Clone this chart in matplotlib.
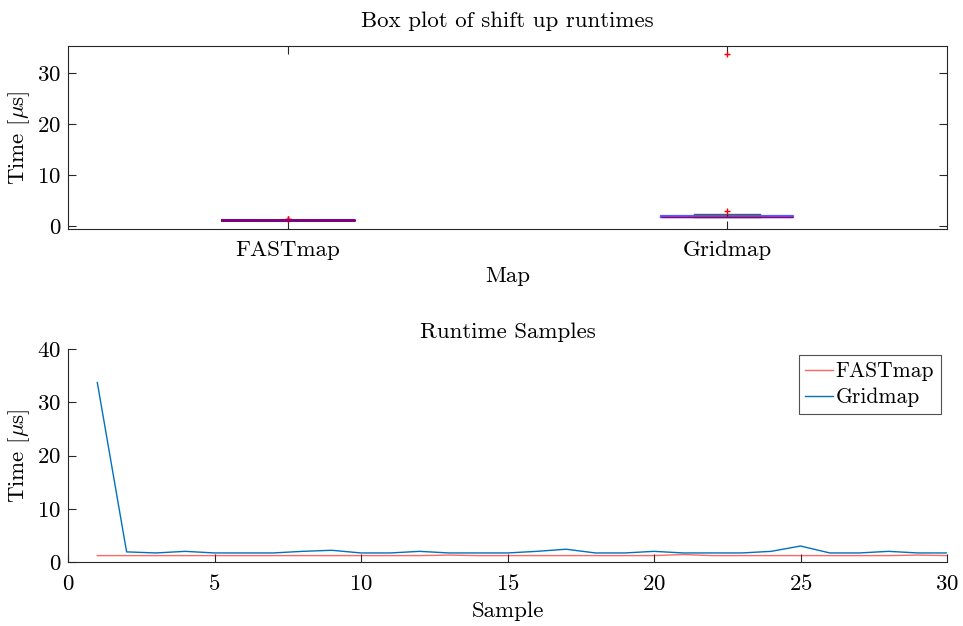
import matplotlib
matplotlib.use("Agg")
import matplotlib.pyplot as plt
import numpy as np

plt.rcParams['font.family'] = 'serif'
plt.rcParams['font.serif'] = ['cmr10']
plt.rcParams['mathtext.fontset'] = 'cm'
plt.rcParams['axes.formatter.use_mathtext'] = True
plt.rcParams['axes.unicode_minus'] = False

maps = ["FASTmap", "Gridmap"]
samples = list(range(1, 31))
fastmap = [1.2, 1.2, 1.2, 1.2, 1.2, 1.2, 1.2, 1.2, 1.2, 1.2, 1.2, 1.2, 1.3, 1.2, 1.2,
           1.2, 1.2, 1.2, 1.2, 1.2, 1.4, 1.2, 1.2, 1.2, 1.2, 1.2, 1.2, 1.2, 1.3, 1.2]
gridmap = [33.7, 1.9, 1.7, 2.0, 1.7, 1.7, 1.7, 2.0, 2.2, 1.7, 1.7, 2.0, 1.7, 1.7, 1.7,
           2.0, 2.4, 1.7, 1.7, 2.0, 1.7, 1.7, 1.7, 2.0, 3.0, 1.7, 1.7, 2.0, 1.7, 1.7]

W, H = 963, 626
fig = plt.figure(figsize=(W / 100, H / 100), dpi=100)
spine_c = (0.15, 0.15, 0.15)
fs = 16.5
lfs = 15.5

def box(l, r, t, b):
    return [l / W, 1 - b / H, (r - l) / W, (b - t) / H]

ax1 = fig.add_axes(box(68, 947, 46, 229))
bp = ax1.boxplot([fastmap, gridmap], positions=[1, 2], widths=0.3, whis=1.5,
                 patch_artist=False,
                 boxprops=dict(color=(0, 0, 1), linewidth=1.0),
                 medianprops=dict(color=(1, 0, 0), linewidth=1.0),
                 whiskerprops=dict(color='black', linestyle='--', linewidth=0.8),
                 capprops=dict(color=(0.35, 0.35, 0.35), linewidth=1.0),
                 flierprops=dict(marker='+', markeredgecolor=(1, 0, 0), markersize=5))
# FASTmap collapsed box appears purple (blue box + red median overlapping)
bp['boxes'][0].set_color((0.5, 0, 0.5))
bp['boxes'][0].set_linewidth(2)
bp['medians'][0].set_color((0.5, 0, 0.5))
bp['medians'][0].set_linewidth(2)
bp['boxes'][1].set_color((0.35, 0.35, 1.0))
bp['boxes'][1].set_linewidth(1.6)
bp['medians'][1].set_color((0.6, 0, 0.4))
ax1.set_xlim(0.5, 2.5)
ax1.set_ylim(-0.6, 35.3)
ax1.set_yticks([0, 10, 20, 30])
ax1.set_xticks([1, 2])
ax1.set_xticklabels(maps)
ax1.set_title("Box plot of shift up runtimes", fontsize=fs, pad=14)
ax1.set_xlabel("Map", fontsize=fs, labelpad=5)
ax1.set_ylabel(r"Time [$\mu$s]", fontsize=fs)
ax1.tick_params(direction='in', top=True, right=True, labelsize=fs, colors=spine_c,
                labelcolor='black', length=6)
ax1.tick_params(axis='x', pad=8)
ax1.tick_params(axis='y', pad=5)
for s in ax1.spines.values():
    s.set_color(spine_c)

ax2 = fig.add_axes(box(68, 947, 349, 562))
ax2.plot(samples, fastmap, color=(1, 0, 0), alpha=0.6, linewidth=1.0, label="FASTmap")
ax2.plot(samples, gridmap, color=(0, 0.447, 0.741), linewidth=1.0, label="Gridmap")
ax2.set_xlim(0, 30)
ax2.set_ylim(0, 40)
ax2.set_xticks(range(0, 31, 5))
ax2.set_yticks(range(0, 41, 10))
ax2.set_title("Runtime Samples", fontsize=fs, pad=8)
ax2.set_xlabel("Sample", fontsize=fs, labelpad=5)
ax2.set_ylabel(r"Time [$\mu$s]", fontsize=fs)
ax2.spines['top'].set_visible(False)
ax2.spines['right'].set_visible(False)
for s in ax2.spines.values():
    s.set_color(spine_c)
ax2.tick_params(direction='in', labelsize=fs, colors=spine_c, labelcolor='black', length=6)
ax2.tick_params(axis='x', pad=9)
ax2.tick_params(axis='y', pad=5)
leg = ax2.legend(loc='upper right', fontsize=lfs, fancybox=False, edgecolor=spine_c,
                 handlelength=1.3, handletextpad=0.1, borderpad=0.3, labelspacing=0.3,
                 borderaxespad=0.3)
leg.get_frame().set_linewidth(0.8)

fig.savefig("out.png", dpi=100)
